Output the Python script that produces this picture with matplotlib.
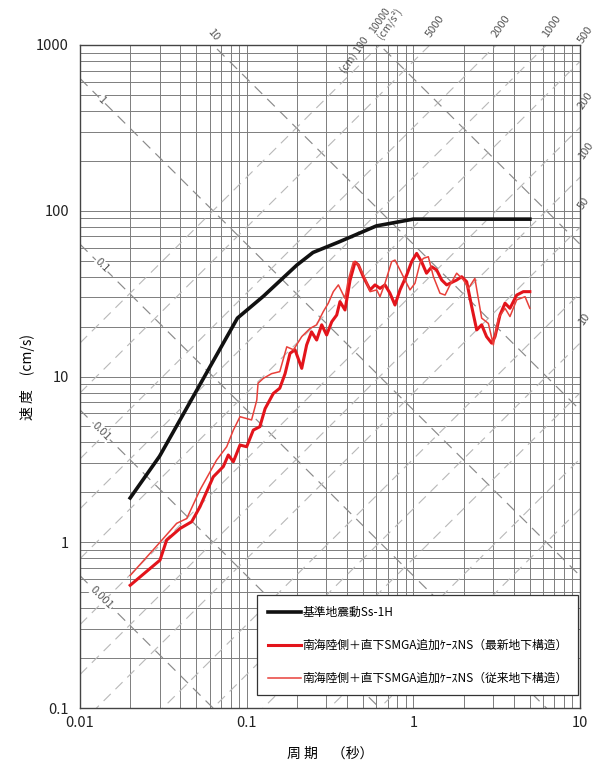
import numpy as np
import matplotlib
matplotlib.use("Agg")
import matplotlib.pyplot as plt
from matplotlib.ticker import LogLocator, NullFormatter

plt.rcParams['font.family'] = ['Noto Sans CJK JP', 'DejaVu Sans']

# 基準地震動 Ss-1H
period_ss = [0.02, 0.03, 0.088, 0.126, 0.2, 0.25, 0.36, 0.6, 1.0, 5.0]
vel_ss = [1.85, 3.3, 22.5, 30.5, 47.0, 56.0, 65.0, 81.0, 89.0, 89.0]

# 南海陸側＋直下SMGA追加ケースNS (最新地下構造)
period_new = [0.02, 0.0302, 0.0331, 0.0398, 0.0468, 0.0525, 0.063, 0.0724, 0.0776, 0.0832,
              0.0912, 0.1, 0.1096, 0.12, 0.129, 0.1445, 0.158, 0.17, 0.182, 0.195,
              0.214, 0.229, 0.245, 0.263, 0.282, 0.302, 0.324, 0.347, 0.363, 0.389,
              0.417, 0.447, 0.468, 0.501, 0.55, 0.589, 0.631, 0.676, 0.724, 0.776,
              0.832, 0.912, 0.977, 1.047, 1.12, 1.2, 1.29, 1.38, 1.48, 1.585,
              1.82, 1.95, 2.09, 2.24, 2.4, 2.57, 2.75, 2.95, 3.09, 3.31,
              3.55, 3.8, 4.17, 4.57, 5.0]
vel_new = [0.55, 0.78, 1.03, 1.21, 1.33, 1.64, 2.48, 2.86, 3.36, 3.06,
           3.86, 3.77, 4.75, 4.98, 6.4, 7.9, 8.5, 10.4, 13.8, 14.5,
           11.2, 15.5, 18.6, 16.6, 20.5, 17.8, 21.4, 23.5, 28.3, 25.2,
           38.0, 49.0, 47.1, 40.0, 33.3, 35.7, 34.0, 35.7, 31.8, 27.0,
           33.3, 40.9, 49.3, 55.3, 49.3, 42.0, 45.9, 43.9, 38.2, 35.7,
           38.2, 40.0, 37.3, 26.4, 19.1, 20.5, 17.4, 15.9, 17.4, 23.5,
           27.7, 25.8, 31.0, 32.5, 32.5]

# 南海陸側＋直下SMGA追加ケースNS (従来地下構造)
period_old = [0.02, 0.0302, 0.038, 0.0437, 0.0525, 0.066, 0.0759, 0.0832, 0.0912, 0.107,
              0.115, 0.117, 0.126, 0.141, 0.158, 0.174, 0.191, 0.214, 0.24, 0.263,
              0.288, 0.309, 0.331, 0.355, 0.389, 0.407, 0.437, 0.468, 0.513, 0.55,
              0.603, 0.631, 0.676, 0.741, 0.776, 0.832, 0.891, 0.955, 1.023, 1.096,
              1.148, 1.23, 1.32, 1.445, 1.55, 1.66, 1.82, 2.0, 2.14, 2.34,
              2.57, 2.82, 3.02, 3.24, 3.55, 3.8, 4.17, 4.68, 5.0]
vel_old = [0.63, 1.0, 1.3, 1.39, 2.07, 3.13, 3.77, 4.75, 5.72, 5.47,
           7.2, 9.1, 9.75, 10.4, 10.7, 15.1, 14.5, 17.4, 19.5, 20.5,
           24.6, 27.7, 32.5, 35.7, 29.6, 38.2, 49.3, 47.1, 39.1, 32.5,
           33.3, 30.3, 36.5, 49.3, 50.4, 43.9, 38.2, 33.3, 36.5, 48.2,
           51.6, 52.8, 40.0, 31.8, 31.0, 35.7, 42.0, 38.2, 34.0, 39.1,
           22.5, 20.9, 15.5, 22.5, 25.8, 23.0, 29.0, 30.3, 25.8]

labels = ['基準地震動Ss-1H',
          '南海陸側＋直下SMGA追加ｹｰｽNS（最新地下構造）',
          '南海陸側＋直下SMGA追加ｹｰｽNS（従来地下構造）']

# tripartite guide lines
disp_levels = [0.001, 0.01, 0.1, 1, 10, 100]          # cm
disp_labels = ['0.001', '0.01', '0.1', '1', '10', '100']
accel_levels = [1, 2, 5, 10, 20, 50, 100, 200, 500, 1000, 2000, 5000, 10000]  # cm/s2
accel_top = [5000, 2000, 1000]
accel_right = [500, 200, 100, 50, 10]

fig = plt.figure(figsize=(5.98, 7.61), dpi=100)
ax = fig.add_axes([80 / 598, 1 - 708 / 761, 500 / 598, 663 / 761])
ax.set_xscale('log')
ax.set_yscale('log')
ax.set_xlim(0.01, 10)
ax.set_ylim(0.1, 1000)

ax.xaxis.set_minor_locator(LogLocator(base=10, subs=range(2, 10)))
ax.yaxis.set_minor_locator(LogLocator(base=10, subs=range(2, 10)))
ax.xaxis.set_minor_formatter(NullFormatter())
ax.yaxis.set_minor_formatter(NullFormatter())
ax.grid(True, which='both', color='#7d7d7d', lw=0.7)
ax.set_axisbelow(True)
ax.tick_params(which='both', length=0, labelsize=10.5, colors='#222222')
ax.tick_params(axis='x', pad=6)
ax.tick_params(axis='y', pad=8)
ax.set_xticks([0.01, 0.1, 1, 10], ['0.01', '0.1', '1', '10'])
ax.set_yticks([0.1, 1, 10, 100, 1000], ['0.1', '1', '10', '100', '1000'])
for s in ax.spines.values():
    s.set_color('#444444')
    s.set_linewidth(1.0)

tt = np.logspace(-2, 1, 200)
for d in disp_levels:
    ax.plot(tt, 2 * np.pi * d / tt, color='#8a8a8a', lw=0.85, ls=(0, (9, 6)), zorder=1)
for a in accel_levels:
    ax.plot(tt, a * tt / (2 * np.pi), color='#b8b8b8', lw=0.8, ls=(0, (9, 6)), zorder=1)

# displacement labels on left side
for d, lab in zip(disp_levels[:4], disp_labels[:4]):
    t0 = 0.0135
    ax.text(t0, 2 * np.pi * d / t0, lab, rotation=-45, fontsize=8, color='#555555',
            ha='center', va='center', zorder=2,
            bbox=dict(facecolor='white', edgecolor='none', pad=0.5))
ax.text(2 * np.pi * 10 / 1000, 1030, '10', rotation=-50, fontsize=8, color='#555555',
        ha='center', va='bottom', clip_on=False)
ax.text(2 * np.pi * 100 / 1000 * 0.88, 1060, '(cm) 100', rotation=55, fontsize=7.5,
        color='#555555', ha='right', va='bottom', rotation_mode='anchor', clip_on=False)
ax.text(2 * np.pi * 1000 / 10000 * 1.06, 1060, '10000\n(cm/s²)', rotation=55, fontsize=7.5,
        color='#555555', ha='left', va='bottom', rotation_mode='anchor', clip_on=False,
        linespacing=0.9)
for a in accel_top:
    ax.text(2 * np.pi * 1000 / a * 1.03, 1080, str(a), rotation=55, fontsize=8,
            color='#555555', ha='left', va='bottom', rotation_mode='anchor', clip_on=False)
for a in accel_right:
    ax.text(10.6, a * 10 / (2 * np.pi) * 1.25, str(a), rotation=55, fontsize=8,
            color='#555555', ha='left', va='bottom', rotation_mode='anchor', clip_on=False)

ax.plot(period_ss, vel_ss, color='#111111', lw=2.6, label=labels[0], zorder=5)
ax.plot(period_new, vel_new, color='#e3141b', lw=2.2, label=labels[1], zorder=4)
ax.plot(period_old, vel_old, color='#e8403a', lw=1.1, label=labels[2], zorder=4)

leg = ax.legend(loc='lower right', bbox_to_anchor=(0.996, 0.019), borderaxespad=0,
                fontsize=8.5, handlelength=2.8, handletextpad=0.1, labelspacing=1.7,
                fancybox=False, framealpha=1, borderpad=0.9)
leg.get_frame().set_edgecolor('#333333')
leg.get_frame().set_linewidth(0.9)

ax.set_xlabel('周 期　（秒）', fontsize=10)
ax.set_ylabel('速 度　(cm/s)', fontsize=10)
ax.xaxis.set_label_coords(0.5, -0.058)
ax.yaxis.set_label_coords(-0.09, 0.5)

fig.savefig('out.png', dpi=100)
